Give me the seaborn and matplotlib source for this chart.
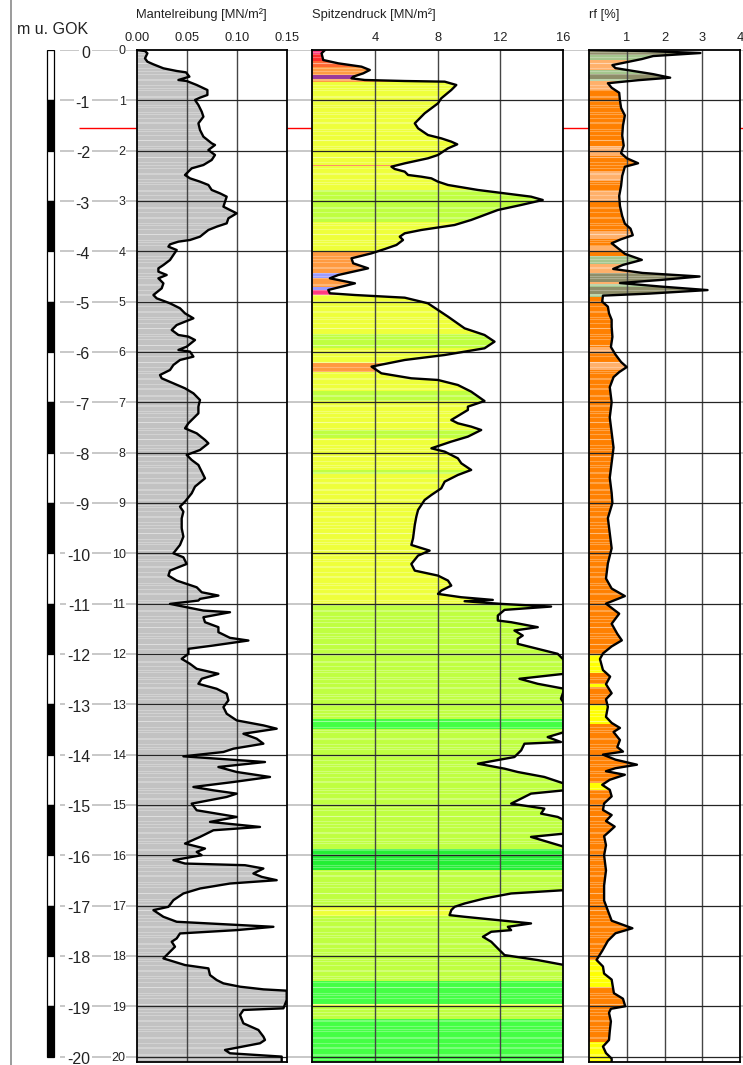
import numpy as np
import matplotlib
matplotlib.use("Agg")
import matplotlib.pyplot as plt
from matplotlib.lines import Line2D
from matplotlib.patches import Rectangle
import seaborn as sns

# ------------------------------------------------------------------ data
depth_ticks = list(range(0, 21))
water_level = 1.55

fs_ticks = [0.00, 0.05, 0.10, 0.15]
fs_ticklabels = ["0.00", "0.05", "0.10", "0.15"]
qc_ticks = [4, 8, 12, 16]
qc_ticklabels = ["4", "8", "12", "16"]
rf_ticks = [1, 2, 3, 4]
rf_ticklabels = ["1", "2", "3", "4"]

# Mantelreibung fs [MN/m2]
fs_depth = [0.0, 0.02, 0.066, 0.166, 0.232, 0.285, 0.364, 0.417, 0.444, 0.53, 0.596, 0.616, 0.695, 0.795,
            0.894, 0.947, 0.993, 1.093, 1.225, 1.325, 1.457, 1.589, 1.722, 1.854, 1.887, 1.987, 2.086,
            2.185, 2.285, 2.351, 2.483, 2.55, 2.616, 2.682, 2.781, 2.848, 2.914, 3.113, 3.179, 3.245,
            3.344, 3.444, 3.51, 3.576, 3.709, 3.775, 3.808, 3.861, 3.907, 3.974, 4.073, 4.172, 4.272,
            4.338, 4.404, 4.47, 4.536, 4.636, 4.735, 4.868, 4.934, 5.033, 5.132, 5.232, 5.331, 5.464,
            5.563, 5.662, 5.695, 5.762, 5.894, 5.96, 5.993, 6.093, 6.159, 6.258, 6.358, 6.457, 6.523,
            6.623, 6.722, 6.821, 6.954, 7.086, 7.219, 7.417, 7.517, 7.616, 7.748, 7.815, 7.947, 8.046,
            8.146, 8.245, 8.377, 8.51, 8.675, 8.808, 8.974, 9.073, 9.172, 9.305, 9.503, 9.669, 9.834,
            10.0, 10.079, 10.212, 10.344, 10.443, 10.542, 10.608, 10.675, 10.774, 10.807, 10.84, 10.906,
            10.939, 11.005, 11.071, 11.138, 11.171, 11.27, 11.369, 11.468, 11.567, 11.68, 11.733, 11.832,
            11.898, 11.997, 12.097, 12.196, 12.295, 12.394, 12.493, 12.593, 12.692, 12.791, 12.923,
            13.056, 13.188, 13.32, 13.419, 13.485, 13.585, 13.684, 13.783, 13.882, 13.948, 14.034,
            14.081, 14.147, 14.246, 14.345, 14.444, 14.544, 14.643, 14.709, 14.775, 14.841, 14.974,
            15.106, 15.238, 15.337, 15.437, 15.503, 15.635, 15.767, 15.866, 15.933, 15.999, 16.098,
            16.164, 16.197, 16.263, 16.362, 16.429, 16.495, 16.561, 16.66, 16.759, 16.892, 17.024,
            17.09, 17.222, 17.321, 17.421, 17.487, 17.553, 17.652, 17.718, 17.817, 17.917, 18.049,
            18.181, 18.247, 18.38, 18.479, 18.545, 18.611, 18.664, 18.69, 18.876, 19.041, 19.074,
            19.173, 19.339, 19.471, 19.603, 19.669, 19.735, 19.835, 19.868, 19.934, 20.0, 20.1]
fs_value = [0.0, 0.0083, 0.0107, 0.0083, 0.0107, 0.0167, 0.0267, 0.04, 0.0493, 0.0527, 0.0417, 0.05,
            0.06, 0.0707, 0.0707, 0.0633, 0.0583, 0.0617, 0.065, 0.0667, 0.0617, 0.0633, 0.0667, 0.075,
            0.0783, 0.0717, 0.0783, 0.075, 0.0667, 0.055, 0.0483, 0.0533, 0.0633, 0.0717, 0.075, 0.0833,
            0.09, 0.0867, 0.0933, 0.1, 0.0917, 0.09, 0.08, 0.0717, 0.0633, 0.0533, 0.0417, 0.0333,
            0.0317, 0.04, 0.0367, 0.0333, 0.0267, 0.0217, 0.0217, 0.03, 0.0217, 0.0267, 0.025, 0.0167,
            0.02, 0.0333, 0.0433, 0.0483, 0.0567, 0.04, 0.035, 0.0417, 0.0517, 0.0583, 0.05, 0.0417,
            0.0533, 0.0567, 0.0433, 0.0367, 0.0333, 0.0233, 0.025, 0.0367, 0.0483, 0.0567, 0.0633,
            0.0617, 0.0617, 0.0517, 0.0483, 0.06, 0.0683, 0.0717, 0.0633, 0.05, 0.055, 0.0617, 0.065,
            0.0683, 0.0583, 0.055, 0.0483, 0.0433, 0.0467, 0.045, 0.045, 0.0467, 0.0433, 0.0367,
            0.0467, 0.05, 0.0333, 0.0317, 0.04, 0.05, 0.06, 0.065, 0.0733, 0.0817, 0.0633, 0.0617,
            0.0333, 0.05, 0.0667, 0.0933, 0.0667, 0.0683, 0.0817, 0.0817, 0.0933, 0.1117, 0.0767,
            0.0517, 0.0517, 0.045, 0.0533, 0.06, 0.0817, 0.065, 0.0617, 0.08, 0.09, 0.0917, 0.0867,
            0.09, 0.1, 0.1267, 0.14, 0.1067, 0.12, 0.1267, 0.0967, 0.0867, 0.0467, 0.08, 0.1283, 0.0817,
            0.1, 0.1333, 0.0967, 0.0567, 0.0767, 0.1, 0.09, 0.055, 0.06, 0.1, 0.0733, 0.1233, 0.0767,
            0.0633, 0.0483, 0.0683, 0.06, 0.065, 0.0367, 0.0483, 0.1083, 0.1267, 0.1167, 0.125, 0.14,
            0.0933, 0.0633, 0.0467, 0.0367, 0.0317, 0.0167, 0.0267, 0.04, 0.1367, 0.1, 0.0433, 0.04,
            0.035, 0.0383, 0.0333, 0.0267, 0.0483, 0.0717, 0.0733, 0.08, 0.0867, 0.1033, 0.1267, 0.15,
            0.15, 0.1467, 0.1067, 0.1033, 0.1067, 0.1217, 0.1267, 0.1283, 0.1233, 0.0967, 0.0883,
            0.0933, 0.145, 0.145]

# Spitzendruck qc [MN/m2]
qc_depth = [0.0, 0.066, 0.199, 0.265, 0.331, 0.397, 0.464, 0.53, 0.563, 0.596, 0.616, 0.629, 0.695,
            0.795, 0.96, 1.06, 1.258, 1.457, 1.556, 1.689, 1.755, 1.821, 1.874, 1.954, 2.086, 2.152,
            2.252, 2.318, 2.364, 2.417, 2.483, 2.517, 2.55, 2.616, 2.682, 2.781, 2.848, 2.914, 2.98,
            3.079, 3.179, 3.278, 3.377, 3.477, 3.576, 3.642, 3.709, 3.775, 3.874, 3.954, 4.04, 4.139,
            4.238, 4.338, 4.47, 4.536, 4.636, 4.768, 4.834, 4.868, 4.921, 5.033, 5.166, 5.298, 5.53,
            5.662, 5.795, 5.927, 6.06, 6.159, 6.291, 6.424, 6.523, 6.556, 6.656, 6.788, 6.974, 7.086,
            7.152, 7.351, 7.417, 7.483, 7.55, 7.682, 7.781, 7.914, 7.98, 8.113, 8.212, 8.344, 8.444,
            8.576, 8.709, 8.841, 8.94, 9.04, 9.139, 9.272, 9.437, 9.702, 9.834, 9.947, 10.046,
            10.212, 10.344, 10.443, 10.542, 10.642, 10.741, 10.807, 10.873, 10.926, 10.952, 11.005,
            11.058, 11.124, 11.237, 11.336, 11.369, 11.468, 11.534, 11.634, 11.7, 11.799, 11.898,
            11.997, 12.13, 12.394, 12.493, 12.593, 12.692, 12.89, 12.989, 13.552, 13.651, 13.75,
            13.783, 13.915, 14.048, 14.18, 14.279, 14.345, 14.444, 14.577, 14.709, 14.775, 14.974,
            15.073, 15.172, 15.238, 15.304, 15.569, 15.635, 15.734, 15.833, 16.693, 16.759, 16.858,
            16.958, 17.024, 17.09, 17.189, 17.222, 17.288, 17.354, 17.421, 17.487, 17.52, 17.619,
            17.718, 17.851, 17.983, 18.082, 18.181, 20.1]
qc_value = [0.81, 0.59, 0.7, 1.66, 3.14, 3.67, 3.25, 2.61, 2.5, 3.35, 5.9, 8.45, 9.19, 8.87, 8.23, 8.02,
            7.17, 6.54, 6.75, 7.38, 8.23, 8.87, 9.25, 8.66, 8.02, 7.38, 5.9, 5.05, 5.26, 5.9, 6.11, 6.96,
            7.6, 8.02, 8.66, 10.57, 12.27, 13.96, 14.71, 13.33, 11.84, 10.99, 10.14, 9.08, 6.96, 5.9,
            5.58, 5.79, 5.37, 4.63, 3.78, 2.5, 2.61, 3.56, 1.66, 1.12, 2.72, 1.02, 1.12, 2.72, 5.9, 7.38,
            8.02, 8.66, 9.72, 10.99, 11.63, 10.99, 8.45, 5.9, 3.78, 4.41, 6.32, 8.02, 9.29, 10.14, 10.99,
            9.93, 9.93, 8.87, 9.29, 10.14, 10.78, 9.93, 8.87, 7.6, 8.45, 9.29, 9.51, 10.14, 9.29, 8.45,
            8.23, 7.6, 7.17, 6.96, 6.75, 6.64, 6.54, 6.43, 6.32, 7.49, 6.75, 6.32, 6.54, 8.02, 8.66,
            8.87, 8.23, 8.02, 9.51, 11.52, 9.72, 12.05, 15.24, 12.27, 11.84, 11.84, 12.69, 14.39, 12.9,
            13.43, 13.11, 13.11, 14.39, 15.66, 16.09, 16.09, 13.22, 14.39, 16.09, 15.87, 16.09, 16.09,
            15.02, 15.87, 13.54, 13.33, 12.9, 10.57, 12.27, 13.11, 14.81, 16.09, 16.09, 13.96, 12.69,
            14.81, 14.6, 15.66, 16.09, 16.09, 13.96, 15.02, 16.09, 16.09, 12.69, 10.99, 9.72, 9.08,
            8.87, 8.76, 9.72, 11.84, 13.96, 12.48, 12.69, 11.42, 10.89, 11.42, 11.84, 12.27, 14.39,
            16.09, 16.09]

# Reibungsverhaeltnis rf [%]
rf_depth = [0.0, 0.02, 0.06, 0.12, 0.18, 0.25, 0.3, 0.36, 0.42, 0.48, 0.55, 0.6, 0.66, 0.75, 0.85, 1.0,
            1.15, 1.3, 1.5, 1.7, 1.9, 2.05, 2.15, 2.25, 2.32, 2.5, 2.7, 2.9, 3.1, 3.3, 3.45, 3.55, 3.68,
            3.76, 3.84, 3.97, 4.05, 4.17, 4.27, 4.35, 4.43, 4.5, 4.57, 4.63, 4.7, 4.77, 4.84, 4.88, 5.0,
            5.1, 5.23, 5.36, 5.5, 5.7, 5.9, 6.05, 6.2, 6.3, 6.4, 6.5, 6.7, 7.0, 7.3, 7.6, 7.9, 8.2, 8.5,
            8.8, 9.0, 9.3, 9.6, 9.9, 10.2, 10.5, 10.7, 10.85, 11.0, 11.2, 11.4, 11.6, 11.73, 11.85,
            11.99, 12.1, 12.32, 12.45, 12.6, 12.78, 12.9, 13.05, 13.25, 13.37, 13.47, 13.55, 13.71,
            13.85, 13.94, 14.0, 14.1, 14.2, 14.27, 14.33, 14.4, 14.5, 14.6, 14.7, 14.83, 14.97, 15.1,
            15.2, 15.32, 15.43, 15.52, 15.62, 15.8, 16.0, 16.3, 16.6, 16.9, 17.1, 17.3, 17.45, 17.55,
            17.7, 17.9, 18.08, 18.21, 18.35, 18.47, 18.6, 18.74, 18.85, 19.0, 19.05, 19.13, 19.3, 19.5,
            19.67, 19.8, 19.93, 20.04, 20.1]
rf_value = [0.0, 1.5, 2.95, 1.7, 1.4, 0.95, 0.62, 0.7, 1.2, 1.7, 2.15, 1.3, 0.5, 0.6, 0.8, 0.82, 0.85,
            0.95, 0.9, 0.88, 0.92, 0.85, 1.0, 1.3, 0.95, 0.88, 0.85, 0.8, 0.82, 0.88, 0.95, 1.1, 1.16,
            0.85, 0.6, 0.82, 0.95, 1.4, 0.9, 0.64, 1.42, 2.93, 1.88, 0.82, 1.9, 3.14, 1.6, 0.37, 0.35,
            0.5, 0.53, 0.6, 0.6, 0.62, 0.58, 0.7, 0.85, 1.0, 0.8, 0.65, 0.55, 0.6, 0.55, 0.6, 0.65, 0.6,
            0.55, 0.6, 0.62, 0.5, 0.55, 0.6, 0.5, 0.45, 0.6, 0.95, 0.45, 0.8, 0.6, 0.75, 0.87, 0.6, 0.37,
            0.29, 0.37, 0.56, 0.45, 0.6, 0.45, 0.5, 0.45, 0.6, 0.82, 0.65, 0.82, 0.75, 0.9, 0.37, 0.7,
            1.27, 0.7, 0.45, 0.95, 0.55, 0.35, 0.55, 0.6, 0.4, 0.37, 0.6, 0.45, 0.68, 0.55, 0.4, 0.45,
            0.4, 0.45, 0.4, 0.4, 0.5, 0.6, 1.15, 0.7, 0.5, 0.35, 0.2, 0.37, 0.4, 0.6, 0.63, 0.66, 0.9,
            0.96, 0.58, 0.53, 0.58, 0.55, 0.53, 0.37, 0.45, 0.6, 0.6]

# soil-type colour layers (top depth, bottom depth, class)
qc_layer_top = [0.0, 0.07, 0.22, 0.33, 0.5, 0.57, 0.63, 2.28, 2.31, 2.78, 3.42, 4.0, 4.43, 4.53, 4.7,
                4.77, 4.87, 5.65, 5.92, 6.22, 6.4, 6.78, 6.98, 7.55, 7.7, 8.35, 8.42, 11.0, 13.3, 13.5,
                15.88, 16.3, 17.0, 17.2, 18.5, 18.95, 19.0, 19.25]
qc_layer_bot = qc_layer_top[1:] + [20.2]
qc_layer_cls = ["magenta", "red", "redorange", "orange", "purple", "orange", "yellow", "redorange",
                "yellow", "ygreen", "yellow", "orange", "blue", "orange", "blue", "magenta", "yellow",
                "ygreen", "yellow", "orange", "yellow", "ygreen", "yellow", "ygreen", "yellow", "ygreen",
                "yellow", "ygreen", "green", "ygreen", "bgreen", "ygreen", "yellow", "ygreen", "green",
                "yellow", "ygreen", "green"]

rf_layer_top = [0.0, 0.1, 0.2, 0.4, 0.47, 0.57, 0.62, 0.8, 1.9, 2.1, 2.4, 2.6, 2.8, 3.0, 3.6, 3.75,
                3.9, 4.0, 4.1, 4.25, 4.43, 4.6, 4.65, 4.7, 4.84, 4.9, 5.9, 6.0, 6.2, 6.35, 12.0, 12.38,
                12.6, 12.65, 13.0, 13.4, 14.57, 14.7, 18.08, 18.62, 19.7]
rf_layer_bot = rf_layer_top[1:] + [20.2]
rf_layer_cls = ["olive", "sage", "lightorange", "sage", "olive", "sage", "lightorange", "orange",
                "lightorange", "orange", "lightorange", "orange", "lightorange", "orange", "lightorange",
                "orange", "lightorange", "orange", "sage", "lightorange", "olive", "lightorange", "sage",
                "olive", "sage", "orange", "lightorange", "orange", "lightorange", "orange", "yellow",
                "orange", "yellow", "orange", "yellow", "orange", "yellow", "orange", "yellow", "orange",
                "yellow"]

# ------------------------------------------------------------------ styling
soil_colors = {
    "magenta": "#ff3a80", "red": "#ff2a2a", "redorange": "#ff6630", "orange": "#ff9a40",
    "purple": "#9a3a9a", "blue": "#9a9aff", "yellow": "#eeff3a", "ygreen": "#bfff40",
    "green": "#44ff44", "bgreen": "#22ee33",
}
rf_colors = {
    "orange": "#ff8000", "lightorange": "#ffb06a", "olive": "#8e8e68", "sage": "#a4c68c",
    "yellow": "#ffff00",
}

sns.set_theme(style="white")
plt.rcParams["font.family"] = ["Liberation Sans", "DejaVu Sans"]
TXT = "#222222"

W, H = 743, 1065
Y_TOP, Y_BOT = 50, 1062
PX_PER_M = 50.33
D_MAX = (Y_BOT - Y_TOP) / PX_PER_M

fig = plt.figure(figsize=(W / 100, H / 100), dpi=100)
fig.patch.set_facecolor("white")


def px_axes(x0, x1, zorder):
    ax = fig.add_axes([x0 / W, 1 - Y_BOT / H, (x1 - x0) / W, (Y_BOT - Y_TOP) / H])
    ax.set_zorder(zorder)
    return ax


# background axis (pixel x, depth y)
ax_bg = px_axes(0, W, 0)
ax_bg.set_xlim(0, W)
ax_bg.set_ylim(D_MAX, 0)
ax_bg.axis("off")
ax_bg.hlines(depth_ticks, 60, W, color="#c4c4c4", lw=1.3, zorder=1)
ax_bg.hlines(water_level, 79, W, color="#ff0000", lw=1.0, zorder=2)
for k in range(20):
    ax_bg.add_patch(Rectangle((46.5, k), 7.8, 1, facecolor="black" if k % 2 else "white",
                              edgecolor="black", lw=0.9, zorder=3))
for d in depth_ticks:
    ax_bg.text(90, d + 0.06, "0" if d == 0 else f"-{d}", ha="right", va="center",
               fontsize=11.5, color=TXT, zorder=4,
               bbox=dict(facecolor="white", edgecolor="none", pad=1.5))

fig.add_artist(Line2D([10.5 / W, 10.5 / W], [0, 1], transform=fig.transFigure,
                      color="#808080", lw=1.1))
fig.text(17 / W, 1 - 30 / H, "m u. GOK", fontsize=11.5, color=TXT, ha="left", va="center")
fig.text(136 / W, 1 - 15 / H, "Mantelreibung [MN/m²]", fontsize=9.3, color=TXT, ha="left", va="center")
fig.text(312 / W, 1 - 15 / H, "Spitzendruck [MN/m²]", fontsize=9.3, color=TXT, ha="left", va="center")
fig.text(589 / W, 1 - 15 / H, "rf [%]", fontsize=9.3, color=TXT, ha="left", va="center")

stripe_depths = np.concatenate([np.arange(0.03, D_MAX, 0.11), np.arange(0.08, D_MAX, 0.17)])


def panel(x0, x1, depth, vals, xmax, ticks, ticklabels, tops, bots, colors):
    ax = px_axes(x0, x1, 2)
    ax.set_facecolor("white")
    ax.set_xlim(0, xmax)
    ax.set_ylim(D_MAX, 0)
    poly = ax.fill_betweenx(depth, 0, vals, color="none", lw=0)
    path = poly.get_paths()[0]
    for t, b, c in zip(tops, bots, colors):
        sp = ax.axhspan(t, b, facecolor=c, lw=0, zorder=1)
        sp.set_clip_path(path, ax.transData)
    st = ax.hlines(stripe_depths, 0, xmax, color="white", alpha=0.28, lw=0.8, zorder=1.5)
    st.set_clip_path(path, ax.transData)
    ax.vlines([t for t in ticks if 0 < t < xmax - 1e-9], 0, D_MAX, color="#454545", lw=1.0, zorder=2)
    ax.hlines(depth_ticks[1:], 0, xmax, color="#252525", lw=0.9, zorder=2)
    sns.lineplot(x=vals, y=depth, orient="y", sort=False, estimator=None, color="black",
                 lw=1.7, ax=ax, zorder=3)
    ax.xaxis.set_ticks_position("top")
    ax.set_xticks(ticks)
    ax.set_xticklabels(ticklabels)
    ax.tick_params(axis="x", length=0, pad=4, labelsize=9.3, labelcolor=TXT, top=True, bottom=False,
                   labeltop=True, labelbottom=False)
    ax.set_xlabel("")
    ax.set_ylabel("")
    ax.set_yticks([])
    for s in ax.spines.values():
        s.set_color("black")
        s.set_linewidth(1.3)
        s.set_visible(True)
    return ax


ax1 = panel(136.7, 286.7, fs_depth, fs_value, 0.15, fs_ticks, fs_ticklabels,
            [0.0], [20.2], ["#c2c2c2"])
ax1.set_yticks(depth_ticks)
ax1.set_yticklabels([str(d) for d in depth_ticks])
ax1.tick_params(axis="y", length=0, pad=8, labelsize=9, labelcolor=TXT, left=True, labelleft=True)
for lbl in ax1.get_yticklabels():
    lbl.set_bbox(dict(facecolor="white", edgecolor="none", pad=0.5))

ax2 = panel(312.3, 563.0, qc_depth, qc_value, 16, qc_ticks, qc_ticklabels,
            qc_layer_top, qc_layer_bot, [soil_colors[c] for c in qc_layer_cls])
ax3 = panel(589.0, 740.0, rf_depth, rf_value, 4, rf_ticks, rf_ticklabels,
            rf_layer_top, rf_layer_bot, [rf_colors[c] for c in rf_layer_cls])

fig.savefig("out.png", dpi=100, facecolor="white")
